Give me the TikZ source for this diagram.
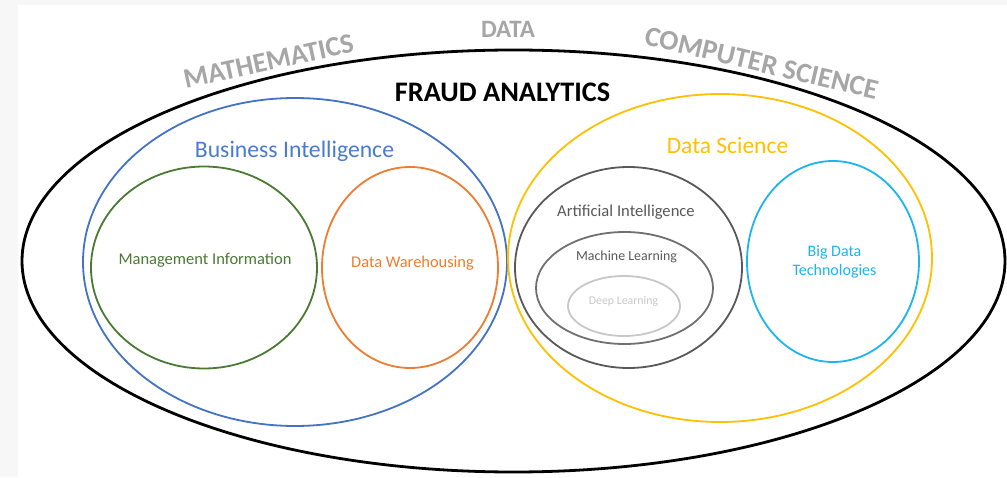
\documentclass[tikz,border=0pt]{standalone}
\usepackage{fontspec}
\setmainfont{Carlito}
\usetikzlibrary{shapes.geometric}
\definecolor{bggray}{HTML}{F7F7F7}
\definecolor{topicgray}{HTML}{A6A6A6}
\definecolor{biblue}{HTML}{4472C4}
\definecolor{bitext}{HTML}{4A7BD0}
\definecolor{dsyellow}{HTML}{FFC000}
\definecolor{migreen}{HTML}{4A7A34}
\definecolor{dworange}{HTML}{ED7D31}
\definecolor{aigray}{HTML}{595959}
\definecolor{mlgray}{HTML}{707070}
\definecolor{dlgray}{HTML}{C8C8C8}
\definecolor{bdcyan}{HTML}{1CB5F0}
\tikzset{
  ring/.style={ellipse, draw, inner sep=0pt, line width=1.8pt},
  lbl/.style={anchor=base, inner sep=0pt, font=#1},
  topic/.style={anchor=base, inner sep=0pt, text=topicgray, font=\fontsize{27.5}{27.5}\selectfont\bfseries},
}
\begin{document}
\begin{tikzpicture}[x=1pt,y=1pt]
\fill[bggray] (0,0) rectangle (1007,477);
\fill[white] (18,0) rectangle (1007,472);
\useasboundingbox (0,0) rectangle (1007,477);
% ellipses
\node[ring, line width=2.8pt, minimum width=983pt, minimum height=422pt] (outer) at (513.5,216) {};
\node[ring, draw=biblue, minimum width=424pt, minimum height=328pt] (bi) at (295,215) {};
\node[ring, draw=dsyellow, minimum width=424pt, minimum height=328pt] (ds) at (720,219) {};
\node[ring, draw=migreen, minimum width=226pt, minimum height=202pt] (mi) at (204,209.5) {};
\node[ring, draw=dworange, minimum width=176pt, minimum height=201pt] (dw) at (410,209.5) {};
\node[ring, draw=aigray, minimum width=227pt, minimum height=201pt] (ai) at (628.5,209.5) {};
\node[ring, draw=mlgray, minimum width=177pt, minimum height=112pt] (ml) at (624.5,189) {};
\node[ring, draw=dlgray, minimum width=112pt, minimum height=60pt] (dl) at (624,171) {};
\node[ring, draw=bdcyan, minimum width=172pt, minimum height=201pt] (bd) at (833,215.5) {};
% top labels
\node[topic, font=\fontsize{28}{28}\selectfont\bfseries] (math) at (270.5,407) [rotate=12.3] {MATHEMATICS};
\node[topic, font=\fontsize{25}{25}\selectfont\bfseries] (data) at (508,439) {DATA};
\node[topic, font=\fontsize{28.2}{28.2}\selectfont\bfseries] (cs) at (759.5,405) [rotate=-13.3] {COMPUTER SCIENCE};
\node[lbl=\fontsize{28.3}{28.3}\selectfont\bfseries] (fa) at (502.5,375.3) {FRAUD ANALYTICS};
% inner labels
\node[lbl=\fontsize{23.7}{23.7}\selectfont, text=bitext] (bit) at (294.5,319) {Business Intelligence};
\node[lbl=\fontsize{23.5}{23.5}\selectfont, text=dsyellow] (dst) at (727.5,323.5) {Data Science};
\node[lbl=\fontsize{16.5}{16.5}\selectfont, text=migreen] (mit) at (205,212) {Management Information};
\node[lbl=\fontsize{16.4}{16.4}\selectfont, text=dworange] (dwt) at (412.5,209) {Data Warehousing};
\node[lbl=\fontsize{16.6}{16.6}\selectfont, text=aigray] (ait) at (626,260) {Artificial Intelligence};
\node[lbl=\fontsize{13.9}{13.9}\selectfont, text=aigray] (mlt) at (626.5,216) {Machine Learning};
\node[lbl=\fontsize{11.8}{11.8}\selectfont, text=dlgray] (dlt) at (623.5,172) {Deep Learning};
\node[lbl=\fontsize{16}{19}\selectfont, text=bdcyan, align=center] (bdt) at (834.5,201) {Big Data\\Technologies};
\end{tikzpicture}
\end{document}
